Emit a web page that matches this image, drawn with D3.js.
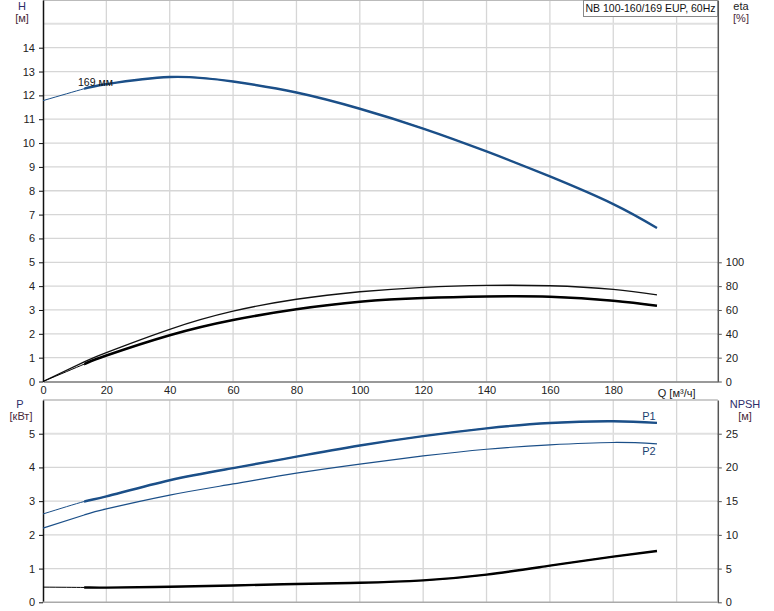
<!DOCTYPE html>
<html><head><meta charset="utf-8">
<script src="https://cdn.jsdelivr.net/npm/d3@7"></script>
<style>body{margin:0;background:#fff}svg{display:block;font-family:"Liberation Sans",Arial,sans-serif}</style>
</head><body><svg id="c" width="774" height="611"></svg>
<script>
// ---- data ----
const qTicks = [0,20,40,60,80,100,120,140,160,180];
const qLabel = "Q [м³/ч]";
const hTicks = [0,1,2,3,4,5,6,7,8,9,10,11,12,13,14];
const etaTicks = [0,20,40,60,80,100];
const pTicks = [0,1,2,3,4,5];
const npshTicks = [0,5,10,15,20,25];
const title = "NB 100-160/169 EUP, 60Hz";
const curveLabel = "169 мм";

const hQ   = [0, 13, 20, 40, 60, 80, 100, 120, 140, 160, 180, 193.8];
const hVal = [11.78, 12.28, 12.47, 12.77, 12.58, 12.12, 11.44, 10.61, 9.65, 8.60, 7.44, 6.44];

const etaQ = [0, 13, 20, 40, 60, 80, 100, 120, 140, 160, 180, 193.8];
const eta1 = [0, 16.5, 24.3, 43.8, 59, 69, 75.3, 79, 80.6, 80.3, 77.3, 72.6];
const eta2 = [0, 14.6, 21.8, 38.8, 51.6, 60.6, 66.9, 70, 71.3, 71.1, 67.8, 63.6];

const pQ  = [0, 13, 20, 40, 60, 80, 100, 120, 140, 160, 180, 193.8];
const p1  = [2.62, 2.99, 3.14, 3.62, 3.98, 4.32, 4.65, 4.93, 5.16, 5.32, 5.37, 5.32];
const p2  = [2.2, 2.59, 2.77, 3.18, 3.51, 3.83, 4.10, 4.34, 4.54, 4.67, 4.74, 4.70];

const nQ    = [0, 13, 20, 40, 60, 80, 100, 120, 140, 160, 180, 193.8];
const npsh  = [2.25, 2.2, 2.18, 2.3, 2.5, 2.72, 2.9, 3.25, 4.1, 5.43, 6.77, 7.6];

// ---- scales ----
const svg = d3.select("#c");
const L = 43, R = 717.8;
const x = d3.scaleLinear().domain([0,213]).range([L,R]);
const yH = d3.scaleLinear().domain([0,16]).range([381.5,0]);
const yE = d3.scaleLinear().domain([0,320]).range([381.5,0]);
const yP = d3.scaleLinear().domain([0,6]).range([602.3,400]);
const yN = d3.scaleLinear().domain([0,30]).range([602.3,400]);

const grid = svg.append("g");
const gridCol = "#d6d6d6";
[20,40,60,80,100,120,140,160,180,200].forEach(q=>{
  grid.append("line").attr("x1",x(q)).attr("x2",x(q)).attr("y1",0).attr("y2",yH(0)).attr("stroke",gridCol).attr("stroke-width",1.3);
  grid.append("line").attr("x1",x(q)).attr("x2",x(q)).attr("y1",yP(6)).attr("y2",yP(0)).attr("stroke",gridCol).attr("stroke-width",1.3);
});
d3.range(1,16).forEach(h=>{
  grid.append("line").attr("x1",L).attr("x2",R).attr("y1",yH(h)).attr("y2",yH(h)).attr("stroke",h===15?"#e0e0e0":gridCol).attr("stroke-width",h===15?2:1.3);
});
d3.range(1,6).forEach(p=>{
  grid.append("line").attr("x1",L).attr("x2",R).attr("y1",yP(p)).attr("y2",yP(p)).attr("stroke",p===5?"#e0e0e0":gridCol).attr("stroke-width",p===5?2:1.3);
});
grid.append("line").attr("x1",L).attr("x2",R).attr("y1",0.5).attr("y2",0.5).attr("stroke","#bbb");
grid.append("line").attr("x1",L).attr("x2",R).attr("y1",yP(6)).attr("y2",yP(6)).attr("stroke","#bbb").attr("stroke-width",1.5);

function styleAxis(g, col){
  g.selectAll("path").attr("stroke",col).attr("stroke-width",1.5);
  g.selectAll(".tick line").attr("stroke",col);
  g.selectAll("text").attr("font-size","11px").attr("fill","#222").attr("font-family","Liberation Sans, Arial, sans-serif");
}
const fmt = d3.format("d");
const axHL = svg.append("g").attr("transform",`translate(${L},0)`)
  .call(d3.axisLeft(yH).tickValues(hTicks).tickFormat(fmt).tickSize(4).tickSizeOuter(0).tickPadding(4));
styleAxis(axHL,"#111");
const axER = svg.append("g").attr("transform",`translate(${R},0)`)
  .call(d3.axisRight(yE).tickValues(etaTicks).tickFormat(fmt).tickSize(4).tickSizeOuter(0).tickPadding(4));
styleAxis(axER,"#555");
const axQ = svg.append("g").attr("transform",`translate(0,${yH(0)})`)
  .call(d3.axisBottom(x).tickValues(qTicks).tickFormat(fmt).tickSize(0).tickSizeOuter(0).tickPadding(5));
styleAxis(axQ,"#777");
axQ.append("text").attr("x",x(200)).attr("y",15).attr("text-anchor","middle").attr("font-size","11px").attr("fill","#222").text(qLabel);

const axPL = svg.append("g").attr("transform",`translate(${L},0)`)
  .call(d3.axisLeft(yP).tickValues(pTicks).tickFormat(fmt).tickSize(4).tickSizeOuter(0).tickPadding(4));
styleAxis(axPL,"#111");
const axNR = svg.append("g").attr("transform",`translate(${R},0)`)
  .call(d3.axisRight(yN).tickValues(npshTicks).tickFormat(fmt).tickSize(4).tickSizeOuter(0).tickPadding(4));
styleAxis(axNR,"#555");
svg.append("line").attr("x1",L).attr("x2",R).attr("y1",yP(0)).attr("y2",yP(0)).attr("stroke","#aaa").attr("stroke-width",1.5);

function lbl(tx,ty,t,col){svg.append("text").attr("x",tx).attr("y",ty).attr("text-anchor","middle").attr("dominant-baseline","middle").attr("font-size","11px").attr("fill",col).text(t);}
lbl(22,7,"H","#2d2d6a"); lbl(22,19,"[м]","#4a2a3a");
lbl(741,7,"eta","#222"); lbl(741,19,"[%]","#4a2a3a");
lbl(20,405,"P","#2d2d6a"); lbl(21,417,"[кВт]","#4a2a3a");
lbl(745,405,"NPSH","#2d2d6a"); lbl(745,417,"[м]","#4a2a3a");

function drawCurve(xs, ys, ys2, col, thin, thick, splitIdx){
  const pts = xs.map((q,i)=>[q,ys[i]]);
  const line = d3.line().x(d=>x(d[0])).y(d=>ys2(d[1])).curve(d3.curveNatural);
  svg.append("path").attr("d",line(pts)).attr("fill","none").attr("stroke",col).attr("stroke-width",thin);
  if(thick){
    const full = svg.append("path").attr("d",line(pts)).attr("fill","none").attr("stroke",col).attr("stroke-width",thick);
    const id = "clip"+Math.random().toString(36).slice(2);
    svg.append("clipPath").attr("id",id).append("rect").attr("x",x(xs[splitIdx])).attr("y",0).attr("width",800).attr("height",700);
    full.attr("clip-path",`url(#${id})`);
  }
}
const blue = "#1b4f88";
drawCurve(hQ,hVal,yH,blue,1,2.4,1);
drawCurve(etaQ,eta1,yE,"#111",1.3,null,1);
drawCurve(etaQ,eta2,yE,"#000",1,2.6,1);
drawCurve(pQ,p1,yP,blue,1,2.4,1);
drawCurve(pQ,p2,yP,blue,1.2,null,1);
drawCurve(nQ,npsh,yN,"#000",1,2.4,1);

svg.append("text").attr("x",78).attr("y",83).attr("dominant-baseline","middle").attr("font-size","10.5px").attr("fill","#111").text(curveLabel);
svg.append("text").attr("x",649).attr("y",417).attr("text-anchor","middle").attr("dominant-baseline","middle").attr("font-size","11px").attr("fill","#1b3f70").text("P1");
svg.append("text").attr("x",649).attr("y",452).attr("text-anchor","middle").attr("dominant-baseline","middle").attr("font-size","11px").attr("fill","#1b3f70").text("P2");

const tb = svg.append("g");
tb.append("rect").attr("x",583.5).attr("y",0.5).attr("width",134).attr("height",16).attr("fill","#fff").attr("stroke","#888");
tb.append("text").attr("x",650.5).attr("y",9).attr("text-anchor","middle").attr("dominant-baseline","middle").attr("font-size","10.5px").attr("fill","#111").text(title);
</script></body></html>
